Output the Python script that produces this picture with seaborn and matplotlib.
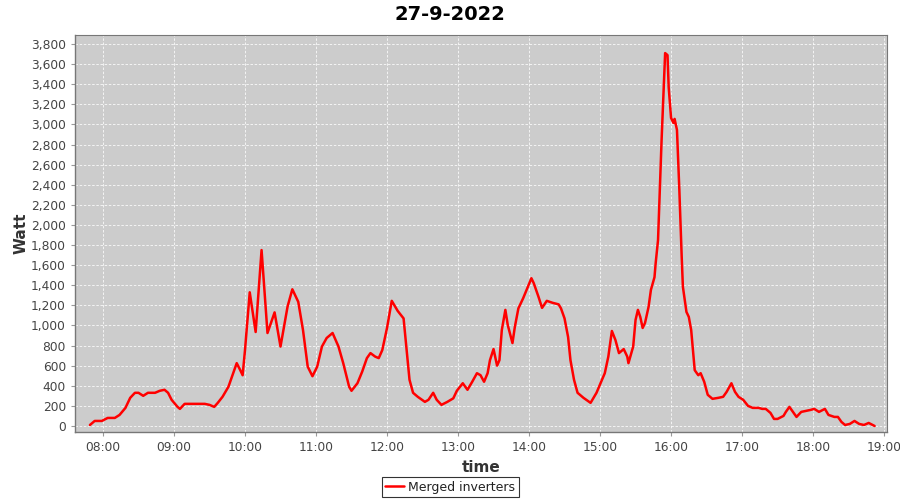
import matplotlib
matplotlib.use('Agg')

import seaborn as sns
import matplotlib.pyplot as plt
import matplotlib.dates as mdates
import matplotlib.ticker as mticker
import pandas as pd

# Readings of the merged inverters (time of day, Watt)
times = [
    "07:49", "07:53", "07:59", "08:04", "08:10", "08:14", "08:19", "08:23", "08:27", "08:30",
    "08:34", "08:38", "08:44", "08:48", "08:52", "08:55", "08:58", "09:03", "09:05", "09:09",
    "09:15", "09:20", "09:26", "09:30", "09:34", "09:37", "09:41", "09:46", "09:50", "09:53",
    "09:56", "09:58", "10:00", "10:04", "10:09", "10:14", "10:19", "10:25", "10:30", "10:36",
    "10:40", "10:45", "10:49", "10:53", "10:57", "11:01", "11:05", "11:09", "11:14", "11:19",
    "11:23", "11:28", "11:30", "11:35", "11:39", "11:43", "11:46", "11:50", "11:53", "11:56",
    "12:00", "12:04", "12:09", "12:14", "12:16", "12:19", "12:22", "12:26", "12:32", "12:35",
    "12:39", "12:42", "12:46", "12:51", "12:56", "12:59", "13:04", "13:08", "13:12", "13:16",
    "13:19", "13:22", "13:25", "13:27", "13:30", "13:33", "13:35", "13:37", "13:40", "13:42",
    "13:46", "13:48", "13:51", "13:55", "13:59", "14:02", "14:04", "14:08", "14:11", "14:15",
    "14:20", "14:25", "14:27", "14:30", "14:33", "14:35", "14:38", "14:41", "14:46", "14:52",
    "14:57", "15:01", "15:04", "15:07", "15:10", "15:13", "15:16", "15:20", "15:23", "15:24",
    "15:28", "15:30", "15:32", "15:34", "15:36", "15:38", "15:41", "15:43", "15:46", "15:47",
    "15:49", "15:50", "15:52", "15:54", "15:55", "15:57", "15:58", "16:00", "16:02", "16:03",
    "16:05", "16:07", "16:09", "16:10", "16:13", "16:15", "16:17", "16:19", "16:20", "16:23",
    "16:25", "16:28", "16:31", "16:35", "16:40", "16:44", "16:47", "16:51", "16:54", "16:57",
    "17:01", "17:05", "17:09", "17:14", "17:17", "17:20", "17:24", "17:27", "17:30", "17:35",
    "17:37", "17:40", "17:43", "17:46", "17:50", "17:54", "17:58", "18:01", "18:05", "18:10",
    "18:13", "18:18", "18:21", "18:24", "18:27", "18:31", "18:35", "18:39", "18:43", "18:47",
    "18:52",
]
watts = [
    10, 50, 50, 80, 80, 110, 180, 280, 330, 330,
    300, 330, 330, 350, 360, 330, 260, 190, 170, 220,
    220, 220, 220, 210, 190, 230, 290, 390, 525, 625,
    555, 505, 755, 1330, 935, 1750, 925, 1130, 790, 1190,
    1360, 1235, 955, 590, 495, 590, 790, 875, 925, 790,
    625, 390, 350, 425, 540, 675, 725, 690, 675, 755,
    975, 1245, 1145, 1070, 825, 460, 330, 290, 240, 260,
    330, 260, 210, 240, 275, 350, 425, 360, 440, 525,
    505, 440, 525, 655, 765, 600, 655, 955, 1155, 1005,
    825, 985, 1170, 1270, 1385, 1470, 1420, 1285, 1175, 1245,
    1225, 1210, 1170, 1070, 885, 655, 460, 330, 280, 230,
    330, 440, 525, 690, 945, 855, 725, 765, 690, 625,
    790, 1055, 1155, 1085, 975, 1025, 1185, 1355, 1480, 1620,
    1850, 2180, 2845, 3410, 3710, 3690, 3370, 3065, 3015, 3055,
    2945, 2350, 1680, 1385, 1135, 1085, 955, 690, 555, 505,
    525, 440, 310, 270, 280, 290, 340, 425, 340, 290,
    260, 200, 180, 180, 170, 170, 130, 70, 70, 100,
    140, 190, 140, 90, 140, 150, 160, 170, 140, 170,
    110, 90, 90, 40, 10, 20, 50, 20, 10, 30,
    0,
]

day = "2022-09-27"
series_name = "Merged inverters"

df = pd.DataFrame({
    "time": pd.to_datetime([f"{day} {t}" for t in times]),
    "Watt": watts,
})

sns.set_style("whitegrid")
plt.rcParams['font.family'] = ['DejaVu Sans']

fig = plt.figure(figsize=(9, 5), dpi=100)
ax = fig.add_axes([0.0833, 0.136, 0.9023, 0.794])

sns.lineplot(data=df, x="time", y="Watt", color="#ff0000", linewidth=1.8,
             label=series_name, ax=ax)

ax.set_facecolor("#cccccc")
ax.grid(True, color="white", linestyle=(0, (3, 2)), linewidth=0.6, alpha=0.9)

ax.set_xlim(pd.Timestamp(f"{day} 07:36:20"), pd.Timestamp(f"{day} 19:02:30"))
ax.set_ylim(-60, 3890)
ax.yaxis.set_major_locator(mticker.MultipleLocator(200))
ax.yaxis.set_major_formatter(mticker.FuncFormatter(lambda v, p: f"{int(v):,}"))
ax.xaxis.set_major_locator(mdates.HourLocator())
ax.xaxis.set_major_formatter(mdates.DateFormatter("%H:%M"))

ax.tick_params(axis="both", which="major", length=3, width=0.8, color="#999999",
               labelsize=8.8, labelcolor="#444444", direction="out",
               left=True, bottom=True)

for side in ["top", "right"]:
    ax.spines[side].set_visible(True)
    ax.spines[side].set_color("#777777")
for side in ["left", "bottom"]:
    ax.spines[side].set_color("#777777")
    ax.spines[side].set_linewidth(1.0)

ax.set_xlabel("time", fontsize=11, fontweight="bold", color="#333333", labelpad=4)
ax.set_ylabel("Watt", fontsize=11, fontweight="bold", color="#333333", labelpad=2)
fig.suptitle("27-9-2022", fontsize=14, fontweight="bold", color="black", y=0.99)

leg = ax.legend(loc="center", bbox_to_anchor=(0.5, 0.026), bbox_transform=fig.transFigure,
                frameon=True, fancybox=False, fontsize=9, handlelength=1.5,
                borderpad=0.3, handletextpad=0.3)
leg.get_frame().set_edgecolor("black")
leg.get_frame().set_linewidth(0.8)
for txt in leg.get_texts():
    txt.set_color("#222222")

fig.savefig("out.png", dpi=100)
plt.close('all')
